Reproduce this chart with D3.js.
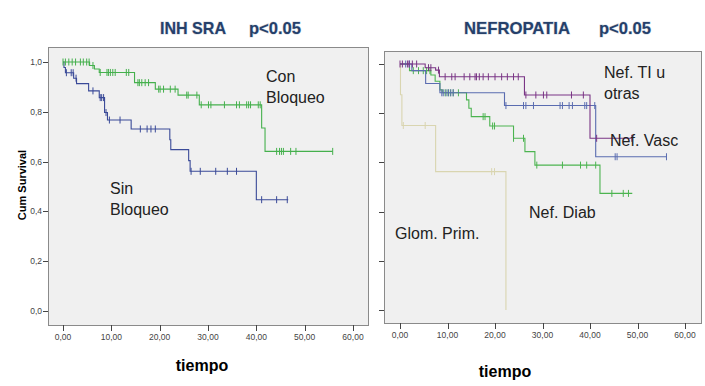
<!DOCTYPE html>
<html>
<head>
<meta charset="utf-8">
<script src="https://cdn.jsdelivr.net/npm/d3@7"></script>
<style>
  body { margin: 0; background: #fff; }
  svg { display: block; }
  .tick-lbl { font-family: "Liberation Sans Narrow", "Liberation Sans", sans-serif; font-size: 8.5px; fill: #444; }
  .title { font-family: "Liberation Sans Narrow", "Liberation Sans", sans-serif; font-weight: bold; font-size: 17px; fill: #25406a; }
  .note { font-family: "Liberation Sans", Arial, sans-serif; font-size: 16px; fill: #222; }
</style>
</head>
<body>
<svg width="705" height="386"></svg>
<script>
// ---- data ----
// left panel: INH SRA
const conTimes = [0, 5.5, 6.5, 7.5, 14.8, 19.1, 23.8, 28.2, 41.1, 41.8];
const conSurv  = [1, 0.986, 0.972, 0.958, 0.917, 0.891, 0.867, 0.828, 0.735, 0.641];
const conEnd = 55.8;
const conCens = [0, 0.5, 1.2, 1.9, 2.6, 3.6, 4.2, 4.9, 5.4, 6.2, 7.7, 9.1, 9.4, 9.8, 10.3, 10.8, 13.1, 13.6,
  15.5, 15.8, 16.3, 17, 17.7, 19.8, 20.1, 20.8, 22.2, 23.2, 25.6, 25.9, 27.7,
  28.6, 30.1, 30.6, 33.4, 35.9, 36.5, 38, 38.4, 38.8, 40.4, 40.8, 44.2, 44.8, 45.2, 45.6, 47.1, 48.2, 55.8];

const sinTimes = [0, 0.2, 0.5, 2.2, 2.8, 5.3, 7.5, 8.6, 9.2, 14.1, 22.1, 22.3, 26.0, 26.3, 40.0];
const sinSurv  = [1, 0.978, 0.957, 0.935, 0.913, 0.884, 0.857, 0.797, 0.767, 0.731, 0.688, 0.648, 0.604, 0.561, 0.447];
const sinEnd = 46.6;
const sinCens = [0.7, 1.7, 2.1, 2.7, 6.2, 7.7, 8.0, 8.4, 8.9, 9.6, 11.8, 16, 17.4, 18.2, 19.1,
  26.5, 28.4, 31.6, 34, 35.9, 41.1, 44.2, 46.4];

// right panel: NEFROPATIA
const tiTimes = [0, 5.3, 7.5, 8.3, 26.2, 40.0];
const tiSurv  = [1, 0.985, 0.975, 0.948, 0.874, 0.698];
const tiEnd = 48.8;
const tiCens = [0, 0.5, 1.6, 1.9, 2.6, 3.5, 6.0, 6.5, 8.1, 9.5, 10.9, 11.6, 13.5, 14.7, 15.8, 16.1, 16.7,
  17.5, 18.6, 20, 21.4, 22.6, 23.9, 24.9, 26.5, 28.6, 30.2, 30.9, 36.1, 38.6, 41.4, 48.8];

const vascTimes = [0, 2.5, 5.4, 8.4, 22.0, 41.2];
const vascSurv  = [1, 0.973, 0.921, 0.883, 0.831, 0.623];
const vascEnd = 56.1;
const vascCens = [1.2, 2.0, 8.8, 9.1, 9.7, 10.2, 10.7, 11.2, 22.3, 26.0, 26.5, 28.1, 33.7, 34.2,
  35.6, 36.3, 38.9, 39.3, 41.0, 45.3, 45.7, 56.1];

const diabTimes = [0, 2.0, 6.5, 7.4, 8.4, 8.9, 14.0, 14.5, 15.0, 18.9, 23.9, 26.3, 28.4, 42.1];
const diabSurv  = [1, 0.973, 0.955, 0.93, 0.895, 0.883, 0.854, 0.82, 0.786, 0.748, 0.698, 0.644, 0.589, 0.474];
const diabEnd = 48.9;
const diabCens = [2.8, 3.9, 4.9, 5.6, 6.3, 9.5, 10.1, 10.6, 11.2, 12.3, 17.5, 17.9, 19.5, 19.9, 23.9,
  26.0, 28.8, 34.2, 38.0, 39.3, 41.2, 44.6, 47.0, 48.1];

const glomTimes = [0, 0.1, 0.4, 7.5, 22.3];
const glomSurv  = [1, 0.875, 0.75, 0.5625, 0];
const glomEnd = 22.3;
const glomCens = [0.7, 5.3, 19.3, 19.9];

const xTicks = [0, 10, 20, 30, 40, 50, 60];
const yTicks = [0, 0.2, 0.4, 0.6, 0.8, 1.0];

const svg = d3.select("svg");
const fmtX = d => d3.format(".2f")(d).replace(".", ",");
const fmtY = d => d3.format(".1f")(d).replace(".", ",");

function survAt(times, surv, t) {
  let s = surv[0];
  for (let i = 0; i < times.length; i++) { if (times[i] <= t) s = surv[i]; }
  return s;
}

function drawPanel(cfg) {
  const g = svg.append("g");
  const x = d3.scaleLinear().domain([0, 60]).range(cfg.xr);
  const y = d3.scaleLinear().domain([0, 1]).range(cfg.yr);

  g.append("rect")
    .attr("x", cfg.box[0] + 0.5).attr("y", cfg.box[1] + 0.5)
    .attr("width", cfg.box[2] - cfg.box[0]).attr("height", cfg.box[3] - cfg.box[1])
    .attr("fill", "#f0f0f0").attr("stroke", "#8a8a8a");

  // y ticks
  g.selectAll(".yt").data(yTicks).join("line")
    .attr("x1", cfg.box[0] - 5).attr("x2", cfg.box[0])
    .attr("y1", d => Math.round(y(d)) + 0.5).attr("y2", d => Math.round(y(d)) + 0.5)
    .attr("stroke", "#444");
  if (cfg.yLabels) {
    g.selectAll(".yl").data(yTicks).join("text")
      .attr("class", "tick-lbl")
      .attr("x", cfg.box[0] - 6).attr("y", d => y(d) + 3)
      .attr("text-anchor", "end")
      .text(fmtY);
  }
  // x ticks
  g.selectAll(".xt").data(xTicks).join("line")
    .attr("x1", d => Math.round(x(d)) + 0.5).attr("x2", d => Math.round(x(d)) + 0.5)
    .attr("y1", cfg.box[3]).attr("y2", cfg.box[3] + 6)
    .attr("stroke", "#444");
  g.selectAll(".xl").data(xTicks).join("text")
    .attr("class", "tick-lbl")
    .attr("x", d => x(d)).attr("y", cfg.box[3] + 15)
    .attr("text-anchor", "middle")
    .text(fmtX);

  const line = d3.line().x(d => x(d[0])).y(d => y(d[1])).curve(d3.curveStepAfter);

  cfg.curves.forEach(c => {
    const pts = c.times.map((t, i) => [t, c.surv[i]]);
    pts.push([c.end, c.surv[c.surv.length - 1]]);
    g.append("path").datum(pts)
      .attr("d", line)
      .attr("fill", "none")
      .attr("stroke", c.color)
      .attr("stroke-width", 1.1);
    g.selectAll(null).data(c.cens).join("line")
      .attr("x1", d => x(d)).attr("x2", d => x(d))
      .attr("y1", d => y(survAt(c.times, c.surv, d)) - 3.5)
      .attr("y2", d => y(survAt(c.times, c.surv, d)) + 3.5)
      .attr("stroke", c.color)
      .attr("stroke-width", 1);
  });

  cfg.notes.forEach(n => {
    const t = g.append("text").attr("class", "note").attr("x", n.x).attr("y", n.y);
    n.lines.forEach((l, i) => t.append("tspan").attr("x", n.x).attr("dy", i ? 21 : 0).text(l));
  });
}

drawPanel({
  box: [48, 47, 368, 325],
  xr: [63, 353], yr: [311, 62],
  yLabels: true,
  curves: [
    { times: sinTimes, surv: sinSurv, end: sinEnd, cens: sinCens, color: "#3a4a98" },
    { times: conTimes, surv: conSurv, end: conEnd, cens: conCens, color: "#45b04d" }
  ],
  notes: [
    { x: 266, y: 82, lines: ["Con", "Bloqueo"] },
    { x: 110, y: 194, lines: ["Sin", "Bloqueo"] }
  ]
});

drawPanel({
  box: [384, 51, 701, 323],
  xr: [400, 685], yr: [310, 64],
  yLabels: false,
  curves: [
    { times: glomTimes, surv: glomSurv, end: glomEnd, cens: glomCens, color: "#d9d5b0" },
    { times: diabTimes, surv: diabSurv, end: diabEnd, cens: diabCens, color: "#4cb450" },
    { times: vascTimes, surv: vascSurv, end: vascEnd, cens: vascCens, color: "#5a6cb0" },
    { times: tiTimes, surv: tiSurv, end: tiEnd, cens: tiCens, color: "#7a3585" }
  ],
  notes: [
    { x: 604, y: 78, lines: ["Nef. TI u", "otras"] },
    { x: 610, y: 146, lines: ["Nef. Vasc"] },
    { x: 529, y: 218, lines: ["Nef. Diab"] },
    { x: 395, y: 239, lines: ["Glom. Prim."] }
  ]
});

// titles (squeezed to the condensed look of the original)
const titles = [
  { text: "INH SRA", x: 160, w: 66 },
  { text: "p<0.05", x: 249, w: 52 },
  { text: "NEFROPATIA", x: 464, w: 106 },
  { text: "p<0.05", x: 599, w: 52 }
];
svg.selectAll(".title").data(titles).join("text")
  .attr("class", "title")
  .attr("x", d => d.x).attr("y", 34)
  .attr("textLength", d => d.w)
  .attr("lengthAdjust", "spacingAndGlyphs")
  .style("paint-order", "stroke")
  .style("stroke", "rgba(60,80,120,0.25)").style("stroke-width", 1.2)
  .text(d => d.text);

// axis titles
svg.append("text")
  .attr("transform", "translate(26,185) rotate(-90)")
  .attr("text-anchor", "middle")
  .style("font-family", "Liberation Sans, Arial, sans-serif")
  .style("font-weight", "bold").style("font-size", "11px")
  .text("Cum Survival");
[[202, 371], [505, 377]].forEach(p => {
  svg.append("text").attr("x", p[0]).attr("y", p[1])
    .attr("text-anchor", "middle")
    .style("font-family", "Liberation Sans, Arial, sans-serif")
    .style("font-weight", "bold").style("font-size", "16px")
    .text("tiempo");
});
</script>
</body>
</html>
